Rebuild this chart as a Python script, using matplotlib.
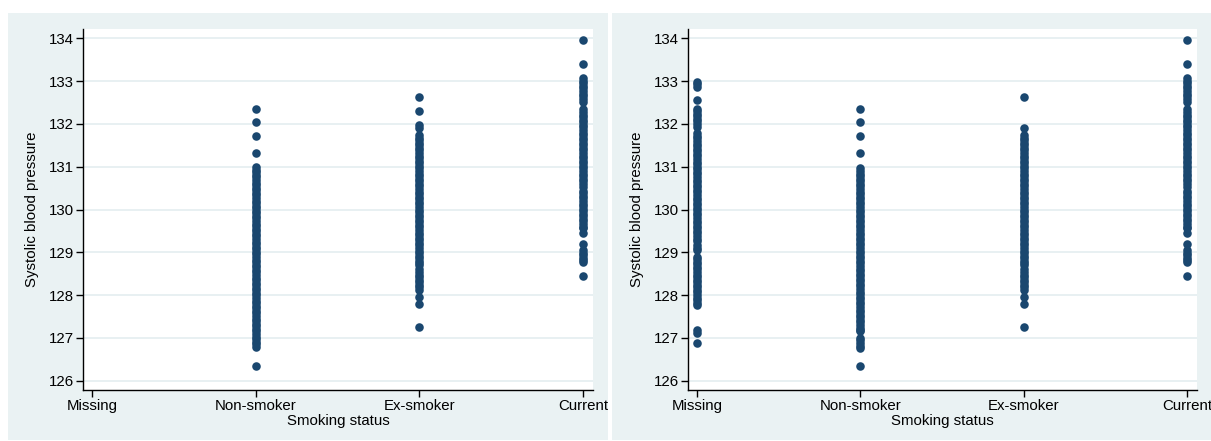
import matplotlib
matplotlib.use("Agg")
import matplotlib.pyplot as plt
from matplotlib.patches import Rectangle

plt.rcParams['font.family'] = ['Liberation Sans', 'DejaVu Sans']

categories = ["Missing", "Non-smoker", "Ex-smoker", "Current"]
x_label = "Smoking status"
y_label = "Systolic blood pressure"
y_ticks = [126, 127, 128, 129, 130, 131, 132, 133, 134]

# ---- left panel values (complete cases) ----
left_missing = []
left_nonsmoker = [132.35, 132.05, 131.72, 131.31,
                  130.99, 130.93, 130.87, 130.81, 130.75, 130.69, 130.63, 130.57, 130.51, 130.45,
                  130.39, 130.33, 130.27, 130.21, 130.15, 130.09, 130.03, 129.97, 129.91, 129.85,
                  129.79, 129.73, 129.67, 129.61, 129.55, 129.49, 129.43, 129.37, 129.31, 129.25,
                  129.19, 129.13, 129.07, 129.01, 128.95, 128.89, 128.83, 128.77, 128.71, 128.65,
                  128.59, 128.53, 128.47, 128.41, 128.35, 128.29, 128.23, 128.17, 128.11, 128.05,
                  127.99, 127.93, 127.87, 127.81, 127.75, 127.69, 127.63, 127.57, 127.51, 127.45,
                  127.39, 127.33, 127.27, 127.21, 127.15, 127.09, 127.03, 126.97, 126.91, 126.85,
                  126.79,
                  126.33]
left_exsmoker = [132.62, 132.31, 131.97, 131.90,
                 131.74, 131.68, 131.62, 131.56, 131.50, 131.44, 131.38, 131.32, 131.26, 131.20,
                 131.14, 131.08, 131.02, 130.96, 130.90, 130.84, 130.78, 130.72, 130.66, 130.60,
                 130.54, 130.48, 130.42, 130.36, 130.30, 130.24, 130.18, 130.12, 130.06, 130.00,
                 129.94, 129.88, 129.82, 129.76, 129.70, 129.64, 129.58, 129.52, 129.46, 129.40,
                 129.34, 129.28, 129.22, 129.16, 129.10, 129.04, 128.98, 128.92, 128.86, 128.80,
                 128.75, 128.70,
                 128.60, 128.54, 128.48, 128.42, 128.36, 128.30, 128.24, 128.18, 128.12,
                 127.96, 127.79, 127.25]
left_current = [133.96, 133.40,
                133.07, 133.01, 132.95, 132.89, 132.83, 132.77, 132.71, 132.65, 132.59, 132.52,
                132.34, 132.28, 132.22, 132.16, 132.10, 132.04, 131.98, 131.92, 131.86, 131.80,
                131.74, 131.68, 131.62, 131.56, 131.50, 131.44, 131.38, 131.32, 131.26, 131.20,
                131.14, 131.08, 131.02, 130.96, 130.90, 130.84, 130.78, 130.72, 130.66, 130.60,
                130.53,
                130.44, 130.38, 130.32, 130.26, 130.20, 130.14, 130.08, 130.02, 129.96, 129.90,
                129.84, 129.78, 129.72, 129.66, 129.60, 129.56,
                129.44, 129.19,
                129.05, 128.99, 128.93, 128.87, 128.81, 128.78,
                128.45]

# ---- right panel values (with missing category) ----
right_missing = [132.99, 132.93, 132.87, 132.56,
                 132.36, 132.30, 132.24, 132.18, 132.12, 132.06, 132.00, 131.93,
                 131.78, 131.72, 131.66, 131.60, 131.54, 131.48, 131.42, 131.36, 131.30, 131.24,
                 131.18, 131.12, 131.06, 131.00, 130.94, 130.88, 130.82, 130.76, 130.70, 130.64,
                 130.58, 130.52, 130.46, 130.40, 130.34, 130.28, 130.22, 130.16, 130.10, 130.04,
                 129.98, 129.92, 129.86, 129.80, 129.74, 129.68, 129.62, 129.56, 129.50, 129.44,
                 129.38, 129.32, 129.26, 129.17, 129.11, 129.05,
                 128.90, 128.84, 128.78, 128.72, 128.66, 128.60, 128.54, 128.48, 128.42, 128.36,
                 128.30, 128.24, 128.18, 128.12, 128.06, 128.00, 127.94, 127.88, 127.82, 127.77,
                 127.18, 127.11, 126.89]
right_nonsmoker = [132.35, 132.05, 131.72, 131.31,
                   130.96, 130.90, 130.84, 130.78, 130.72, 130.66, 130.60, 130.54, 130.48, 130.42,
                   130.36, 130.30, 130.24, 130.18, 130.12, 130.06, 130.00, 129.94, 129.88, 129.82,
                   129.76, 129.70, 129.64, 129.58, 129.52, 129.46, 129.40, 129.34, 129.28, 129.22,
                   129.16, 129.10, 129.04, 128.98, 128.92, 128.86, 128.80, 128.74, 128.68, 128.62,
                   128.56, 128.50, 128.44, 128.38, 128.32, 128.26, 128.20, 128.14, 128.08, 128.02,
                   127.96, 127.90, 127.84, 127.78, 127.72, 127.66, 127.60, 127.54, 127.48, 127.42,
                   127.36, 127.30, 127.24, 127.18, 127.15,
                   127.00, 126.94, 126.88, 126.82, 126.76,
                   126.33]
right_exsmoker = [132.62, 131.90,
                  131.74, 131.68, 131.62, 131.56, 131.50, 131.44, 131.38, 131.32, 131.26, 131.20,
                  131.14, 131.08, 131.02, 130.96, 130.90, 130.84, 130.78, 130.72, 130.66, 130.60,
                  130.54, 130.48, 130.42, 130.36, 130.30, 130.24, 130.18, 130.12, 130.06, 130.00,
                  129.94, 129.88, 129.82, 129.76, 129.70, 129.64, 129.58, 129.52, 129.46, 129.40,
                  129.34, 129.28, 129.22, 129.16, 129.10, 129.04, 128.98, 128.92, 128.86, 128.80,
                  128.75, 128.70,
                  128.60, 128.54, 128.48, 128.42, 128.36, 128.30, 128.24, 128.18, 128.12,
                  127.96, 127.79, 127.25]
right_current = list(left_current)

left_groups = [left_missing, left_nonsmoker, left_exsmoker, left_current]
right_groups = [right_missing, right_nonsmoker, right_exsmoker, right_current]

BG = "#EAF2F3"
GRID = "#E6EFF1"
MARK = "#1A476F"

W, H = 1211, 441
fig = plt.figure(figsize=(W / 100, H / 100), dpi=100, facecolor="white")

# panel backgrounds
fig.patches.append(Rectangle((8 / W, 1 / H), 600 / W, 427 / H, transform=fig.transFigure,
                             facecolor=BG, edgecolor="none", zorder=-10))
fig.patches.append(Rectangle((612 / W, 1 / H), 599 / W, 427 / H, transform=fig.transFigure,
                             facecolor=BG, edgecolor="none", zorder=-10))

ax_specs = [(83, 510, left_groups), (688, 509, right_groups)]
ybot, ytop = 390, 29
for left_px, width_px, groups in ax_specs:
    ax = fig.add_axes([left_px / W, 1 - ybot / H, width_px / W, (ybot - ytop) / H])
    ax.set_facecolor("white")
    for i, vals in enumerate(groups):
        if vals:
            ax.scatter([i] * len(vals), vals, s=38, color=MARK, linewidths=0, zorder=3)
    ax.set_xlim(-0.057, 3.062)
    ax.set_ylim(125.78, 134.22)
    ax.set_yticks(y_ticks)
    ax.set_yticklabels([str(t) for t in y_ticks])
    ax.set_xticks(range(len(categories)))
    ax.set_xticklabels(categories)
    ax.grid(axis="y", color=GRID, linewidth=1.3, zorder=0)
    ax.grid(axis="x", visible=False)
    for s in ["top", "right"]:
        ax.spines[s].set_visible(False)
    for s in ["left", "bottom"]:
        ax.spines[s].set_linewidth(1.0)
        ax.spines[s].set_color("black")
    ax.tick_params(axis="both", direction="out", length=5, width=1.0, pad=1.5,
                   labelsize=10.8, colors="black")
    ax.set_ylabel(y_label, fontsize=10.8)
    ax.set_xlabel(x_label, fontsize=10.8)
    ax.yaxis.set_label_coords(-0.086, 0.5)
    ax.xaxis.set_label_coords(0.5, -0.066)

fig.savefig("out.png", dpi=100, facecolor="white")
